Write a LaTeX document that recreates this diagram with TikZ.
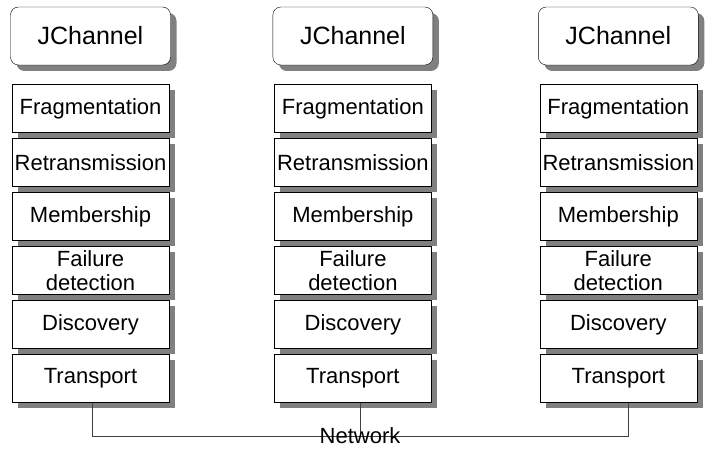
\documentclass[tikz,border=0pt]{standalone}
\usepackage{fontspec}
\setmainfont{Liberation Sans}
\usetikzlibrary{positioning, shadows}
\definecolor{wire}{HTML}{404040}
\tikzset{
  chan/.style={rectangle, rounded corners=8pt, draw=black, fill=white,
               minimum width=160pt, minimum height=58pt, inner sep=0pt,
               font=\fontsize{25}{30}\selectfont,
               drop shadow={shadow xshift=6pt, shadow yshift=-6pt,
                            fill=black!50, opacity=1}},
  layer/.style={rectangle, draw=black, fill=white, align=center,
                minimum width=157pt, minimum height=48pt, inner sep=0pt,
                font=\fontsize{22}{24}\selectfont,
                drop shadow={shadow xshift=6pt, shadow yshift=-6pt,
                             fill=black!50, opacity=1}},
  link/.style={draw=wire, line width=0.9pt},
}
\begin{document}
\begin{tikzpicture}[x=1pt, y=-1pt, node distance=5.6pt]
  \useasboundingbox (0,0) rectangle (718,457);
  \node [chan] (jc1) at (90.5,36) {JChannel};
  \node [chan, right=102pt of jc1] (jc2) {JChannel};
  \node [chan, right=105pt of jc2] (jc3) {JChannel};

  % left stack
  \node [layer, below=19pt of jc1] (fr1) {Fragmentation};
  \node [layer, below=of fr1] (re1) {Retransmission};
  \node [layer, below=of re1] (me1) {Membership};
  \node [layer, below=of me1] (fd1) {Failure\\detection};
  \node [layer, below=of fd1] (di1) {Discovery};
  \node [layer, below=of di1] (tr1) {Transport};

  % middle stack
  \node [layer, below=19pt of jc2] (fr2) {Fragmentation};
  \node [layer, below=of fr2] (re2) {Retransmission};
  \node [layer, below=of re2] (me2) {Membership};
  \node [layer, below=of me2] (fd2) {Failure\\detection};
  \node [layer, below=of fd2] (di2) {Discovery};
  \node [layer, below=of di2] (tr2) {Transport};

  % right stack
  \node [layer, below=19pt of jc3] (fr3) {Fragmentation};
  \node [layer, below=of fr3] (re3) {Retransmission};
  \node [layer, below=of re3] (me3) {Membership};
  \node [layer, below=of me3] (fd3) {Failure\\detection};
  \node [layer, below=of fd3] (di3) {Discovery};
  \node [layer, below=of di3] (tr3) {Transport};

  \coordinate (bus) at (0,436);
  \draw [link] ([xshift=1.5pt]tr1.south) |- ([xshift=10pt]tr3.south |- bus)
               -- ([xshift=10pt]tr3.south);
  \draw [link] ([xshift=7.5pt]tr2.south) -- ([xshift=7.5pt]tr2.south |- bus);
  \node [anchor=base, inner sep=0pt, font=\fontsize{22}{24}\selectfont]
        (net) at (360,443) {Network};
\end{tikzpicture}
\end{document}
